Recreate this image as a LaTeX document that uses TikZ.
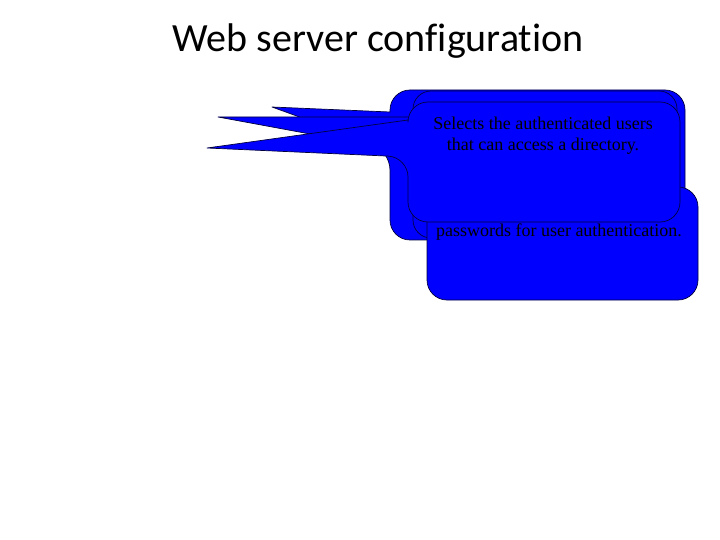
\documentclass[tikz,border=0pt]{standalone}
\usepackage{fontspec}
\setmainfont{Liberation Serif}
\newfontfamily\titlefont[Ligatures=NoCommon]{Carlito}
\definecolor{calloutblue}{RGB}{0,0,255}
\definecolor{calloutline}{RGB}{0,0,60}
\begin{document}
\begin{tikzpicture}[x=1bp, y=-1bp,
	callout/.style={fill=calloutblue, draw=calloutline, line width=0.7bp, line join=round},
	callouttext/.style={align=center, inner sep=0pt, font=\fontsize{18bp}{21bp}\selectfont},
	every node/.style={text=black}]
	
	\useasboundingbox (0,0) rectangle (720,540);
	
	\node[font=\titlefont\fontsize{40bp}{44bp}\selectfont] (title) at (378,41) {Web server configuration};
	
	\coordinate (tipA) at (272,107);
	\coordinate (tipD) at (218,117);
	\coordinate (tipC) at (207,148);
	
	\draw[callout] (tipA) -- (390,112) [rounded corners=20bp] -- (390,90) -- (685,90) -- (685,240) -- (390,240) -- (390,150) [sharp corners] -- cycle;
	\draw[callout] (tipD) -- (413,117) [rounded corners=18bp] -- (413,91) -- (677,91) -- (677,238) -- (413,238) -- (413,153) [sharp corners] -- cycle;
	\draw[callout, rounded corners=20bp] (427,187) rectangle (698,300);
	\draw[callout] (tipC) -- (408,120) [rounded corners=20bp] -- (408,102) -- (680,102) -- (680,222) -- (408,222) -- (408,157) [sharp corners] -- cycle;
	
	\node[callouttext] (selects) at (543,136) {Selects the authenticated users\\that can access a directory.};
	\node[callouttext] (passwords) at (559,232) {passwords for user authentication.};
	
\end{tikzpicture}
\end{document}
